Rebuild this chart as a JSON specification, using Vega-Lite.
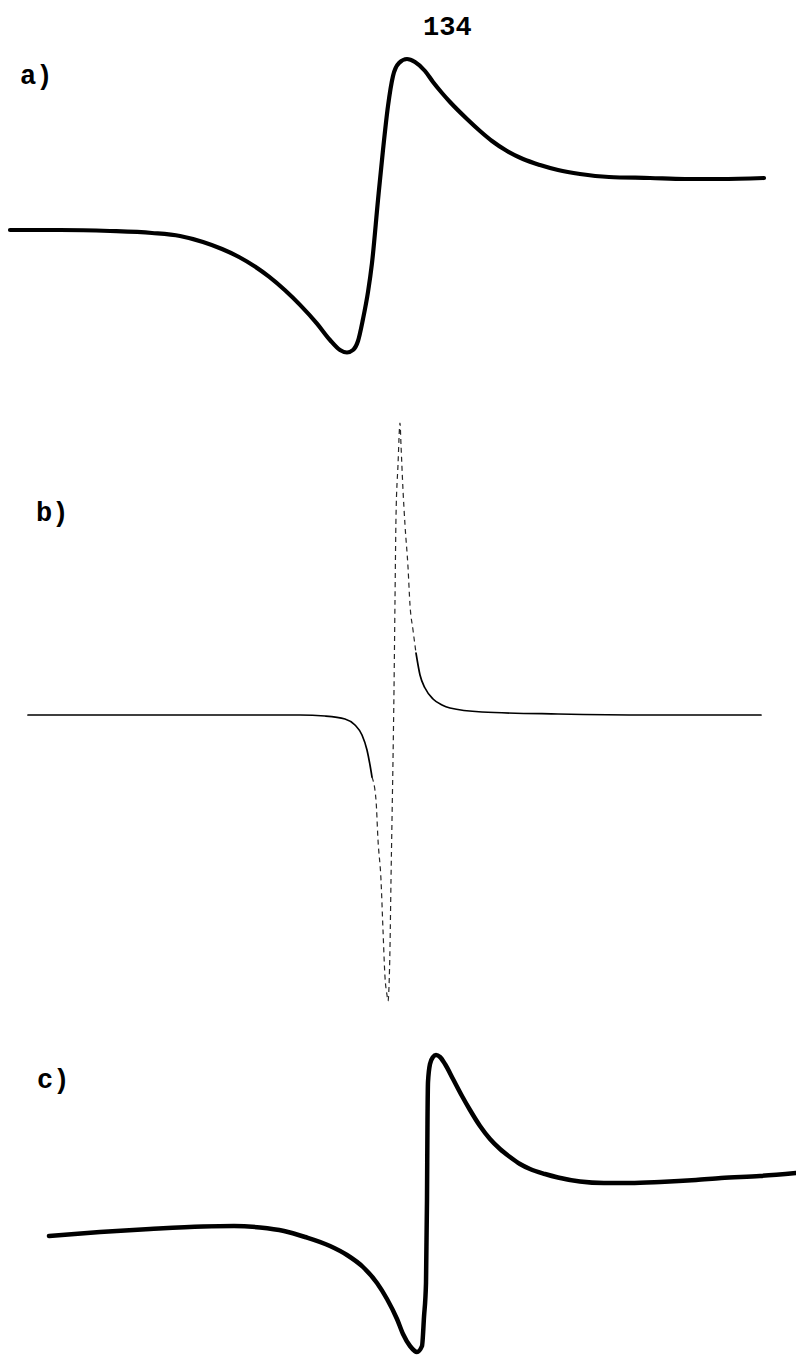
{
  "$schema": "https://vega.github.io/schema/vega-lite/v6.json",
  "background": "white",
  "padding": 0,
  "spacing": 0,
  "bounds": "flush",
  "config": {
    "view": {"stroke": null},
    "text": {"font": "Liberation Mono", "fontWeight": "bold", "fontSize": 27, "align": "left", "baseline": "middle", "color": "black"},
    "line": {"color": "black", "interpolate": "monotone", "strokeCap": "round", "strokeJoin": "round"}
  },
  "datasets": {
    "curveA": [
      {"i": 0, "field": 1.0, "signal": 1}, {"i": 1, "field": 6.0, "signal": 1}, {"i": 2, "field": 11.0, "signal": 0},
      {"i": 3, "field": 15.2, "signal": -2}, {"i": 4, "field": 18.0, "signal": -5}, {"i": 5, "field": 20.3, "signal": -11},
      {"i": 6, "field": 22.2, "signal": -18}, {"i": 7, "field": 23.9, "signal": -26}, {"i": 8, "field": 25.5, "signal": -35.6},
      {"i": 9, "field": 26.9, "signal": -45.7}, {"i": 10, "field": 28.5, "signal": -59.3}, {"i": 11, "field": 30.0, "signal": -73.9},
      {"i": 12, "field": 31.7, "signal": -92.6}, {"i": 13, "field": 33.0, "signal": -109}, {"i": 14, "field": 34.0, "signal": -119},
      {"i": 15, "field": 34.7, "signal": -121.5}, {"i": 16, "field": 35.3, "signal": -119}, {"i": 17, "field": 35.8, "signal": -110},
      {"i": 18, "field": 36.3, "signal": -88}, {"i": 19, "field": 36.8, "signal": -61}, {"i": 20, "field": 37.2, "signal": -32},
      {"i": 21, "field": 37.8, "signal": 31}, {"i": 22, "field": 38.3, "signal": 81}, {"i": 23, "field": 38.8, "signal": 125},
      {"i": 24, "field": 39.3, "signal": 155}, {"i": 25, "field": 39.9, "signal": 168}, {"i": 26, "field": 40.7, "signal": 172},
      {"i": 27, "field": 41.5, "signal": 169}, {"i": 28, "field": 42.5, "signal": 160}, {"i": 29, "field": 43.3, "signal": 149},
      {"i": 30, "field": 44.2, "signal": 138}, {"i": 31, "field": 45.0, "signal": 129}, {"i": 32, "field": 46.7, "signal": 112},
      {"i": 33, "field": 48.0, "signal": 100}, {"i": 34, "field": 49.2, "signal": 90}, {"i": 35, "field": 50.7, "signal": 80},
      {"i": 36, "field": 52.3, "signal": 72}, {"i": 37, "field": 54.0, "signal": 66}, {"i": 38, "field": 55.8, "signal": 61},
      {"i": 39, "field": 58.0, "signal": 57}, {"i": 40, "field": 60.9, "signal": 54}, {"i": 41, "field": 65.0, "signal": 53},
      {"i": 42, "field": 68.5, "signal": 52}, {"i": 43, "field": 72.0, "signal": 52}, {"i": 44, "field": 76.4, "signal": 53}
    ],
    "curveB": [
      {"i": 0, "seg": "left", "field": 2.8, "signal": 0}, {"i": 1, "seg": "left", "field": 10.0, "signal": 0},
      {"i": 2, "seg": "left", "field": 20.0, "signal": 0}, {"i": 3, "seg": "left", "field": 30.0, "signal": 0},
      {"i": 4, "seg": "left", "field": 32.5, "signal": -1}, {"i": 5, "seg": "left", "field": 34.5, "signal": -4},
      {"i": 6, "seg": "left", "field": 35.5, "signal": -10}, {"i": 7, "seg": "left", "field": 36.2, "signal": -20},
      {"i": 8, "seg": "left", "field": 36.7, "signal": -35}, {"i": 9, "seg": "left", "field": 37.0, "signal": -50},
      {"i": 10, "seg": "left", "field": 37.2, "signal": -62},
      {"i": 11, "seg": "fast", "field": 37.2, "signal": -62},
      {"i": 12, "seg": "fast", "field": 37.6, "signal": -85}, {"i": 13, "seg": "fast", "field": 37.8, "signal": -125},
      {"i": 14, "seg": "fast", "field": 38.1, "signal": -165}, {"i": 15, "seg": "fast", "field": 38.3, "signal": -215},
      {"i": 16, "seg": "fast", "field": 38.5, "signal": -262}, {"i": 17, "seg": "fast", "field": 38.7, "signal": -280},
      {"i": 18, "seg": "fast", "field": 38.8, "signal": -286}, {"i": 19, "seg": "fast", "field": 38.9, "signal": -272},
      {"i": 20, "seg": "fast", "field": 39.0, "signal": -232}, {"i": 21, "seg": "fast", "field": 39.1, "signal": -165},
      {"i": 22, "seg": "fast", "field": 39.2, "signal": -105}, {"i": 23, "seg": "fast", "field": 39.3, "signal": -45},
      {"i": 24, "seg": "fast", "field": 39.4, "signal": 25}, {"i": 25, "seg": "fast", "field": 39.5, "signal": 115},
      {"i": 26, "seg": "fast", "field": 39.6, "signal": 198}, {"i": 27, "seg": "fast", "field": 39.8, "signal": 250},
      {"i": 28, "seg": "fast", "field": 40.0, "signal": 292}, {"i": 29, "seg": "fast", "field": 40.1, "signal": 270},
      {"i": 30, "seg": "fast", "field": 40.3, "signal": 225}, {"i": 31, "seg": "fast", "field": 40.5, "signal": 190},
      {"i": 32, "seg": "fast", "field": 40.8, "signal": 148}, {"i": 33, "seg": "fast", "field": 41.0, "signal": 110},
      {"i": 34, "seg": "fast", "field": 41.3, "signal": 85}, {"i": 35, "seg": "fast", "field": 41.6, "signal": 62},
      {"i": 36, "seg": "right", "field": 41.6, "signal": 62}, {"i": 37, "seg": "right", "field": 42.0, "signal": 40},
      {"i": 38, "seg": "right", "field": 42.5, "signal": 27}, {"i": 39, "seg": "right", "field": 43.3, "signal": 16},
      {"i": 40, "seg": "right", "field": 44.2, "signal": 10}, {"i": 41, "seg": "right", "field": 45.0, "signal": 7},
      {"i": 42, "seg": "right", "field": 48.2, "signal": 3}, {"i": 43, "seg": "right", "field": 55.8, "signal": 1},
      {"i": 44, "seg": "right", "field": 65.0, "signal": 0}, {"i": 45, "seg": "right", "field": 76.1, "signal": 0}
    ],
    "curveC": [
      {"i": 0, "field": 4.9, "signal": -36}, {"i": 1, "field": 10.0, "signal": -32}, {"i": 2, "field": 15.0, "signal": -29},
      {"i": 3, "field": 20.3, "signal": -26.5}, {"i": 4, "field": 23.4, "signal": -26}, {"i": 5, "field": 26.0, "signal": -27.5},
      {"i": 6, "field": 28.4, "signal": -31}, {"i": 7, "field": 30.5, "signal": -37}, {"i": 8, "field": 33.0, "signal": -46},
      {"i": 9, "field": 34.7, "signal": -55}, {"i": 10, "field": 36.3, "signal": -67}, {"i": 11, "field": 37.7, "signal": -83},
      {"i": 12, "field": 38.7, "signal": -99}, {"i": 13, "field": 39.7, "signal": -119}, {"i": 14, "field": 40.3, "signal": -134},
      {"i": 15, "field": 41.0, "signal": -146}, {"i": 16, "field": 41.7, "signal": -152}, {"i": 17, "field": 42.2, "signal": -146},
      {"i": 18, "field": 42.4, "signal": -117}, {"i": 19, "field": 42.6, "signal": -83}, {"i": 20, "field": 42.7, "signal": 0},
      {"i": 21, "field": 42.75, "signal": 80}, {"i": 22, "field": 42.8, "signal": 118}, {"i": 23, "field": 43.0, "signal": 136},
      {"i": 24, "field": 43.3, "signal": 143}, {"i": 25, "field": 43.6, "signal": 145}, {"i": 26, "field": 44.0, "signal": 143},
      {"i": 27, "field": 44.5, "signal": 136}, {"i": 28, "field": 45.3, "signal": 121}, {"i": 29, "field": 46.2, "signal": 104},
      {"i": 30, "field": 47.0, "signal": 90}, {"i": 31, "field": 48.0, "signal": 74}, {"i": 32, "field": 49.0, "signal": 61},
      {"i": 33, "field": 50.0, "signal": 51}, {"i": 34, "field": 51.0, "signal": 43}, {"i": 35, "field": 52.0, "signal": 36},
      {"i": 36, "field": 53.0, "signal": 31}, {"i": 37, "field": 54.5, "signal": 26}, {"i": 38, "field": 55.8, "signal": 22.5},
      {"i": 39, "field": 58.0, "signal": 18.5}, {"i": 40, "field": 60.4, "signal": 17}, {"i": 41, "field": 63.0, "signal": 17},
      {"i": 42, "field": 66.0, "signal": 18}, {"i": 43, "field": 69.6, "signal": 20}, {"i": 44, "field": 72.1, "signal": 22},
      {"i": 45, "field": 76.0, "signal": 24}, {"i": 46, "field": 79.6, "signal": 27}
    ],
    "labels": [
      {"panel": "a", "field": 2.0, "signal": 155, "text": "a)"},
      {"panel": "a", "field": 42.3, "signal": 204, "text": "134"},
      {"panel": "b", "field": 3.6, "signal": 202, "text": "b)"},
      {"panel": "c", "field": 3.7, "signal": 120, "text": "c)"}
    ]
  },
  "vconcat": [
    {
      "width": 796,
      "height": 390,
      "layer": [
        {
          "data": {"name": "curveA"},
          "mark": {"type": "line", "strokeWidth": 4.2},
          "encoding": {
            "x": {"field": "field", "type": "quantitative", "scale": {"domain": [0, 79.6], "nice": false, "zero": false}, "axis": null},
            "y": {"field": "signal", "type": "quantitative", "scale": {"domain": [-159, 231], "nice": false, "zero": false}, "axis": null},
            "order": {"field": "i", "type": "quantitative"}
          }
        },
        {
          "data": {"name": "labels"},
          "transform": [{"filter": "datum.panel === 'a'"}],
          "mark": {"type": "text"},
          "encoding": {
            "x": {"field": "field", "type": "quantitative"},
            "y": {"field": "signal", "type": "quantitative"},
            "text": {"field": "text"}
          }
        }
      ]
    },
    {
      "width": 796,
      "height": 640,
      "layer": [
        {
          "data": {"name": "curveB"},
          "transform": [{"filter": "datum.seg !== 'fast'"}],
          "mark": {"type": "line", "strokeWidth": 1.7},
          "encoding": {
            "x": {"field": "field", "type": "quantitative", "scale": {"domain": [0, 79.6], "nice": false, "zero": false}, "axis": null},
            "y": {"field": "signal", "type": "quantitative", "scale": {"domain": [-315, 325], "nice": false, "zero": false}, "axis": null},
            "detail": {"field": "seg"},
            "order": {"field": "i", "type": "quantitative"}
          }
        },
        {
          "data": {"name": "curveB"},
          "transform": [{"filter": "datum.seg === 'fast'"}],
          "mark": {"type": "line", "strokeWidth": 1.2, "strokeDash": [5, 4], "strokeCap": "butt", "opacity": 0.85},
          "encoding": {
            "x": {"field": "field", "type": "quantitative"},
            "y": {"field": "signal", "type": "quantitative"},
            "order": {"field": "i", "type": "quantitative"}
          }
        },
        {
          "data": {"name": "labels"},
          "transform": [{"filter": "datum.panel === 'b'"}],
          "mark": {"type": "text"},
          "encoding": {
            "x": {"field": "field", "type": "quantitative"},
            "y": {"field": "signal", "type": "quantitative"},
            "text": {"field": "text"}
          }
        }
      ]
    },
    {
      "width": 796,
      "height": 327,
      "layer": [
        {
          "data": {"name": "curveC"},
          "mark": {"type": "line", "strokeWidth": 4.5},
          "encoding": {
            "x": {"field": "field", "type": "quantitative", "scale": {"domain": [0, 79.6], "nice": false, "zero": false}, "axis": null},
            "y": {"field": "signal", "type": "quantitative", "scale": {"domain": [-157, 170], "nice": false, "zero": false}, "axis": null},
            "order": {"field": "i", "type": "quantitative"}
          }
        },
        {
          "data": {"name": "labels"},
          "transform": [{"filter": "datum.panel === 'c'"}],
          "mark": {"type": "text"},
          "encoding": {
            "x": {"field": "field", "type": "quantitative"},
            "y": {"field": "signal", "type": "quantitative"},
            "text": {"field": "text"}
          }
        }
      ]
    }
  ]
}
